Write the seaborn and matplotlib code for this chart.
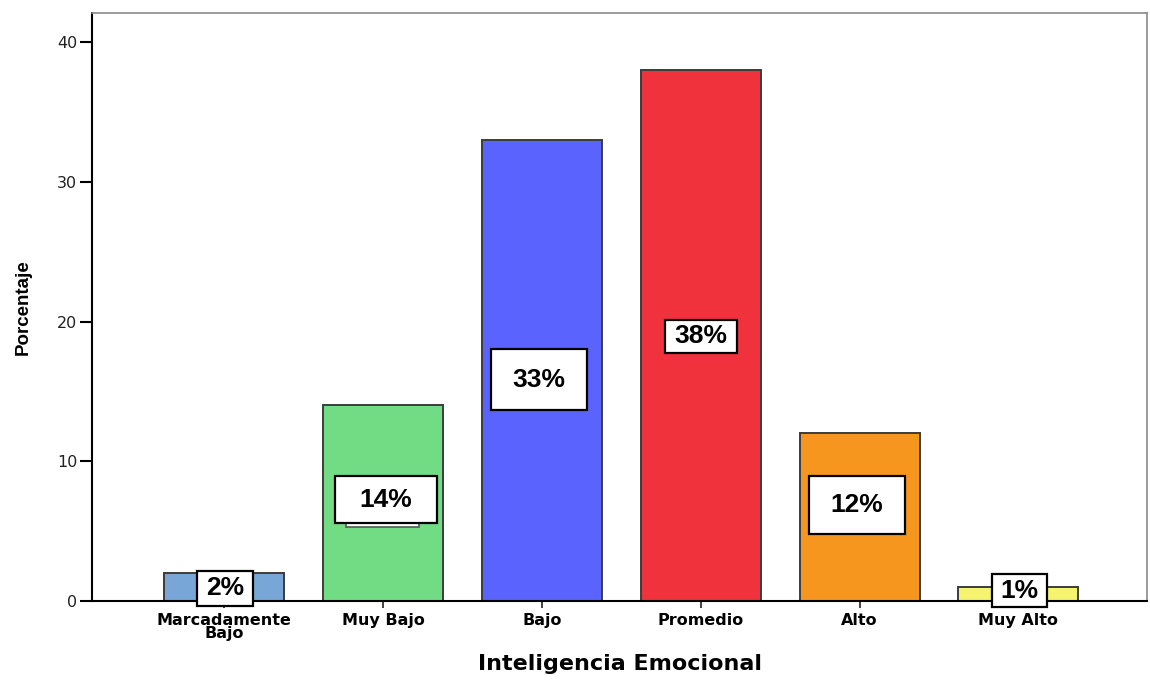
import matplotlib
matplotlib.use("Agg")
import matplotlib.pyplot as plt
from matplotlib.patches import Rectangle
import seaborn as sns

# Distribution of emotional-intelligence levels (percent of respondents)
categorias = ["Marcadamente\nBajo", "Muy Bajo", "Bajo", "Promedio", "Alto", "Muy Alto"]
porcentajes = [2, 14, 33, 38, 12, 1]
etiquetas = ["2%", "14%", "33%", "38%", "12%", "1%"]
colores = ["#78A6D6", "#72DC84", "#5B63FF", "#F0323C", "#F7961E", "#F6F36E"]

# Label boxes: (x centre, y centre, width, height) in data units
cajas = [
    (0.003, 0.90, 0.353, 2.50),
    (1.017, 7.26, 0.640, 3.36),
    (1.980, 15.85, 0.603, 4.36),
    (3.000, 18.93, 0.453, 2.35),
    (3.983, 6.87, 0.605, 4.15),
    (5.006, 0.75, 0.346, 2.36),
]

sns.set_theme(style="white")
plt.rcParams["font.family"] = ["DejaVu Sans"]

fig = plt.figure(figsize=(11.5, 6.8), dpi=100)
ax = fig.add_axes([0.080, 0.1162, 0.9174, 0.8647])

sns.barplot(x=categorias, y=porcentajes, hue=categorias, palette=colores,
            legend=False, width=0.755, edgecolor="#3c3c3c", linewidth=1.4,
            saturation=1, ax=ax)

ax.set_xlim(-0.833, 5.81)
ax.set_ylim(0, 42.08)
ax.set_yticks([0, 10, 20, 30, 40])

# Small backing box under the 14% label
ax.add_patch(Rectangle((0.999 - 0.23, 5.30), 0.46, 1.6, facecolor="white",
                       edgecolor="#555555", linewidth=1.2, zorder=4))

for (cx, cy, w, h), txt in zip(cajas, etiquetas):
    ax.add_patch(Rectangle((cx - w / 2, cy - h / 2), w, h, facecolor="white",
                           edgecolor="black", linewidth=1.6, zorder=5,
                           clip_on=False))
    ax.text(cx, cy, txt, ha="center", va="center", fontsize=19,
            fontweight="bold", color="black", zorder=6, clip_on=False,
            family=["Liberation Sans", "DejaVu Sans"])

for side in ["left", "bottom"]:
    ax.spines[side].set_color("black")
    ax.spines[side].set_linewidth(1.5)
for side in ["top", "right"]:
    ax.spines[side].set_color("#8a8a8a")
    ax.spines[side].set_linewidth(1.2)

ax.tick_params(axis="y", which="both", left=True, length=8.5, width=1.5,
               color="black", pad=2, labelsize=11.5, labelcolor="#222222")
ax.tick_params(axis="x", which="both", bottom=True, length=5, width=1.3,
               color="#333333", pad=4, labelsize=11.5, labelcolor="black")
for lab in ax.get_xticklabels():
    lab.set_fontweight("bold")
    lab.set_linespacing(0.8)

ax.set_xlabel("Inteligencia Emocional", fontsize=16, fontweight="bold",
              color="black")
ax.xaxis.set_label_coords(0.5, -0.091)
ax.set_ylabel("Porcentaje", fontsize=13.5, fontweight="bold", color="black",
              family=["Liberation Sans", "DejaVu Sans"])
ax.yaxis.set_label_coords(-0.057, 0.5)

fig.savefig("out.png", dpi=100)
